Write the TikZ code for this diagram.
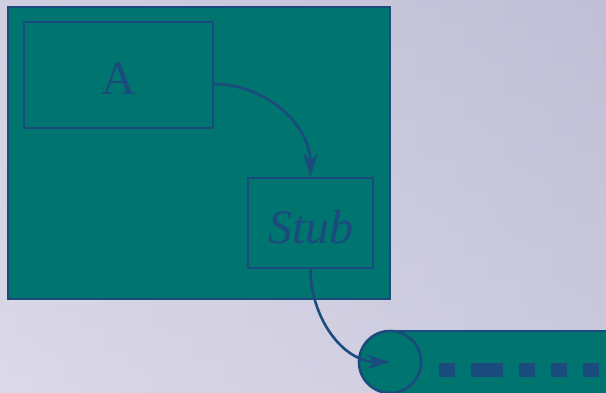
\documentclass[tikz,border=0pt]{standalone}
\usepackage{fontspec}
\setmainfont{Liberation Serif}
\usetikzlibrary{arrows.meta}
\definecolor{teal1}{RGB}{0,117,111}
\definecolor{navy1}{RGB}{27,74,125}
\definecolor{bgA}{RGB}{220,218,232}
\definecolor{bgB}{RGB}{192,191,214}
\tikzset{
  box/.style={draw=navy1, line width=2.6pt, fill=teal1, inner sep=0pt},
  lbl/.style={text=navy1, font=\fontsize{48}{52}\selectfont, inner sep=0pt},
  conn/.style={draw=navy1, line width=2.6pt, -{Stealth[length=24pt,width=15pt,inset=9pt]}}
}
\begin{document}
\begin{tikzpicture}[x=1pt,y=-1pt]
\useasboundingbox (0,0) rectangle (606,392);
\clip (0,0) rectangle (606,392);
\shade[left color=bgA, right color=bgB] (0,0) rectangle (606,392);
\shade[bottom color=bgA, top color=bgB, opacity=0.4] (0,0) rectangle (606,392);
% container
\node[box, minimum width=382pt, minimum height=292pt] (cont) at (199,153) {};
% band
\fill[teal1] (390,331) rectangle (620,400);
\coordinate (bandL) at (390,331);
\coordinate (bandR) at (620,331);
\draw[navy1, line width=2.6pt] (bandL) -- (bandR);
\draw[navy1, line width=14pt, dash pattern=on 16pt off 16pt on 32pt off 16pt on 16pt off 16pt on 16pt off 16pt on 16pt off 16pt] (439,370) -- (606,370);
% circle
\node[circle, draw=navy1, line width=2.6pt, fill=teal1, minimum size=62pt, inner sep=0pt] (circ) at (390,362) {};
% boxes
\node[box, minimum width=189pt, minimum height=106pt] (A) at (118.5,75) {};
\node[lbl] (Atext) at (118.5,79) {A};
\node[box, minimum width=125pt, minimum height=90pt] (stub) at (310.5,223) {};
\node[lbl] (stubtext) at (311,227) {\itshape Stub};
\coordinate (Aout) at (213,84);
% connectors
\draw[conn] (Aout) to[out=0, in=90] (stub.north);
\draw[conn] (stub.south) to[out=-90, in=180] (circ.center);
\end{tikzpicture}
\end{document}
